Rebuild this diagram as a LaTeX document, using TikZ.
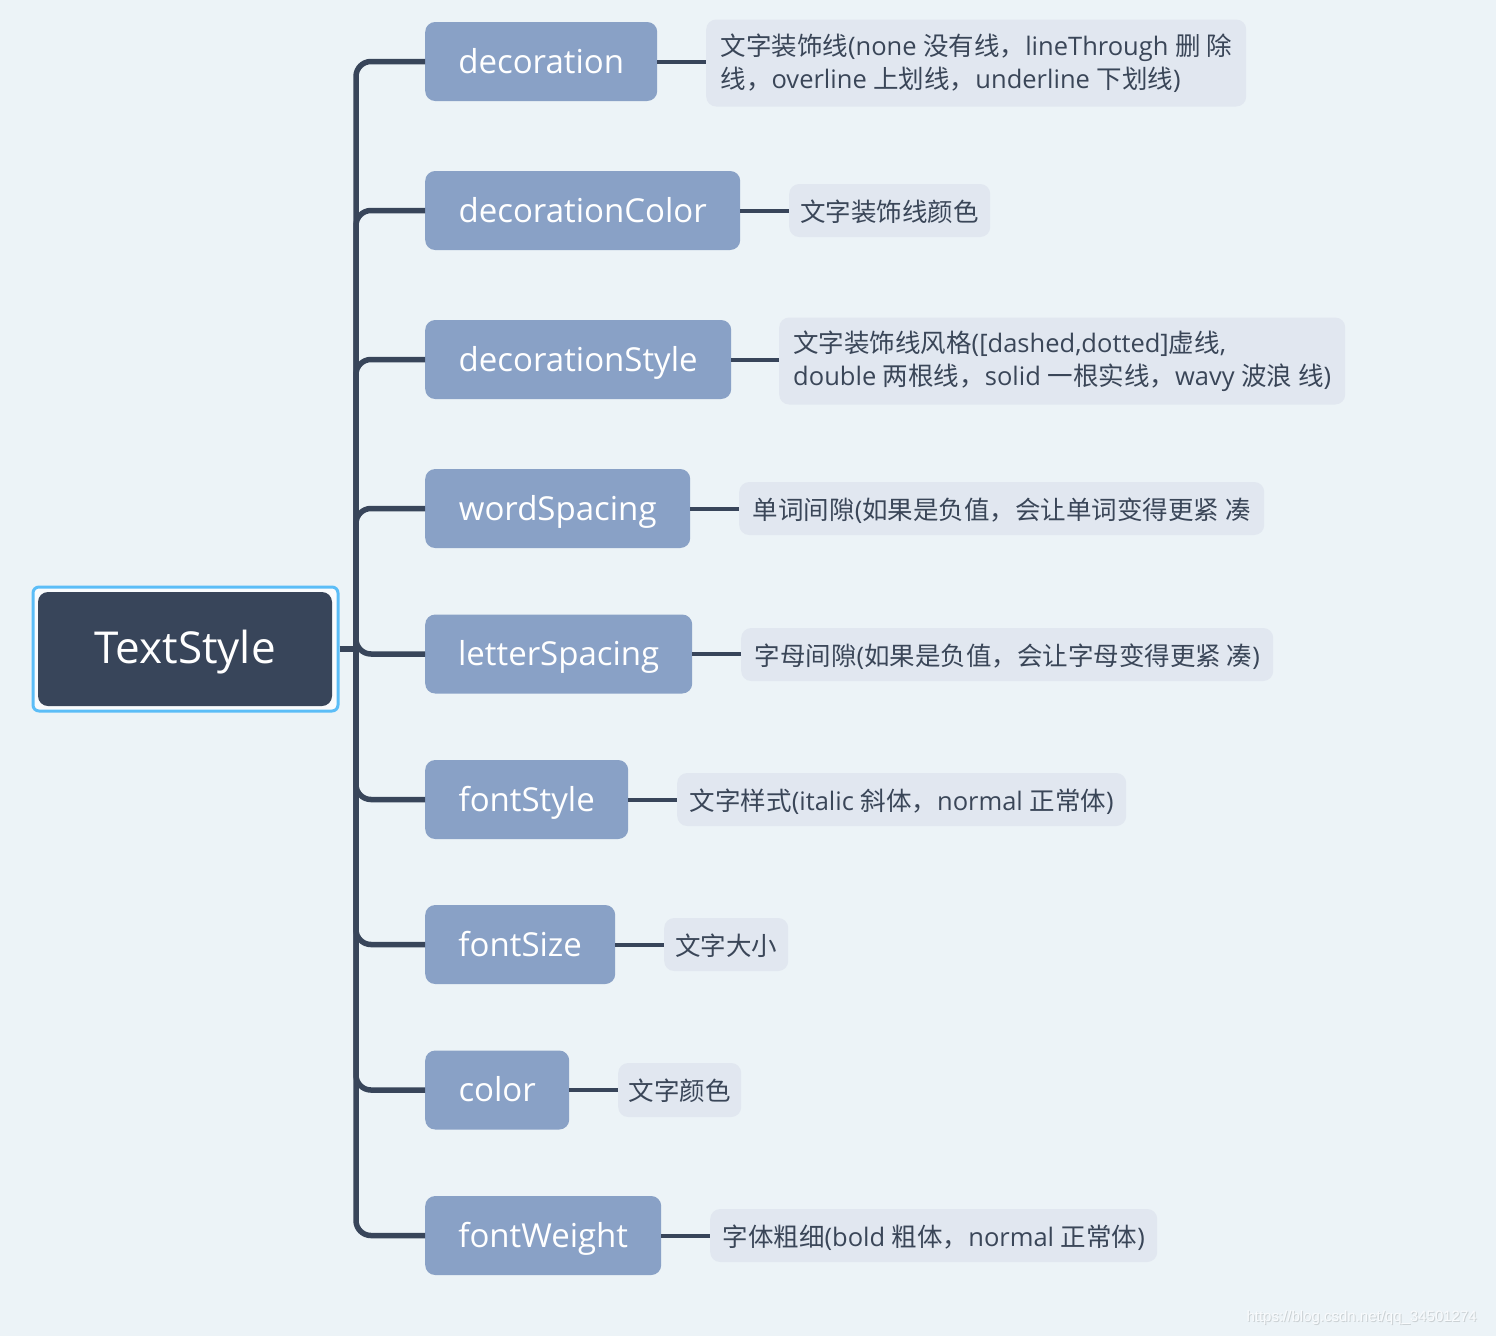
\documentclass[tikz,border=0pt]{standalone}
\usepackage{fontspec}
\setmainfont{Open Sans}
\newfontfamily\cjkfont{Noto Sans CJK SC}
\newfontfamily\wmfont{Liberation Sans}
\newcommand\zh[1]{{\cjkfont #1}}
\definecolor{bgc}{HTML}{ECF3F7}
\definecolor{darkc}{HTML}{38455A}
\definecolor{branchc}{HTML}{89A1C6}
\definecolor{descc}{HTML}{E1E7F0}
\definecolor{bluec}{HTML}{5BBDF7}
\definecolor{txtc}{HTML}{3A4658}
\tikzset{
  branchbox/.style={rectangle, rounded corners=10pt, fill=branchc, text=white,
    anchor=west, minimum height=79pt, inner sep=0pt, text height=26pt, text depth=3pt,
    font=\fontsize{33}{40}\selectfont},
  descbox/.style={rectangle, rounded corners=10pt, fill=descc, text=txtc,
    anchor=west, inner sep=0pt, align=left,
    font=\fontsize{25.5}{33}\selectfont},
  oneline/.style={text height=23pt, text depth=2pt},
  trunk/.style={draw=darkc, line width=5.5pt, rounded corners=15pt},
  leaf/.style={draw=darkc, line width=4pt},
}
\begin{document}
\begin{tikzpicture}[x=1pt,y=-1pt]
\fill[bgc] (0,0) rectangle (1496,1336);
\useasboundingbox (0,0) rectangle (1496,1336);

% root
\node[rectangle, rounded corners=6pt, draw=bluec, line width=3pt, fill=white!70!bgc,
  minimum width=305pt, minimum height=124pt, inner sep=0pt] (rootframe) at (185.5,649) {};
\node[rectangle, rounded corners=10pt, fill=darkc, text=white,
  minimum width=294pt, minimum height=114pt, inner sep=0pt, text height=30pt, text depth=2pt,
  font=\fontsize{44}{50}\selectfont] (root) at (185,649) {TextStyle};

% branches
\node[branchbox, minimum width=232pt] (b1) at (425,61.5) {decoration};
\node[branchbox, minimum width=315pt] (b2) at (425,210.5) {decorationColor};
\node[branchbox, minimum width=306pt] (b3) at (425,359.5) {decorationStyle};
\node[branchbox, minimum width=265pt] (b4) at (425,508.5) {wordSpacing};
\node[branchbox, minimum width=267pt] (b5) at (425,654) {letterSpacing};
\node[branchbox, minimum width=203pt] (b6) at (425,799.5) {fontStyle};
\node[branchbox, minimum width=190pt] (b7) at (425,944.5) {fontSize};
\node[branchbox, minimum width=144pt] (b8) at (425,1090) {color};
\node[branchbox, minimum width=236pt] (b9) at (425,1235.5) {fontWeight};

% descriptions
\node[descbox, minimum width=540pt, minimum height=87pt] (d1) at (706,63)
  {\zh{文字装饰线}(none \zh{没有线，}lineThrough \zh{删 除}\\\zh{线，}overline \zh{上划线，}underline \zh{下划线})};
\node[descbox, oneline, minimum width=201pt, minimum height=53pt] (d2) at (789,210.5)
  {\zh{文字装饰线颜色}};
\node[descbox, minimum width=566pt, minimum height=87pt] (d3) at (779,361)
  {\zh{文字装饰线风格}([dashed,dotted]\zh{虚线},\\double \zh{两根线，}solid \zh{一根实线，}wavy \zh{波浪 线})};
\node[descbox, oneline, minimum width=525pt, minimum height=53pt] (d4) at (739,508.5)
  {\zh{单词间隙}(\zh{如果是负值，会让单词变得更紧 凑}};
\node[descbox, oneline, minimum width=532pt, minimum height=53pt] (d5) at (741,654.5)
  {\zh{字母间隙}(\zh{如果是负值，会让字母变得更紧 凑})};
\node[descbox, oneline, minimum width=449pt, minimum height=53pt] (d6) at (677,799.5)
  {\zh{文字样式}(italic \zh{斜体，}normal \zh{正常体})};
\node[descbox, oneline, minimum width=124pt, minimum height=53pt] (d7) at (664,944.5)
  {\zh{文字大小}};
\node[descbox, oneline, minimum width=123pt, minimum height=54pt] (d8) at (618,1090)
  {\zh{文字颜色}};
\node[descbox, oneline, minimum width=447pt, minimum height=53pt] (d9) at (710,1235.5)
  {\zh{字体粗细}(bold \zh{粗体，}normal \zh{正常体})};

% trunk connectors
\coordinate (hub) at (356,649);
\draw[trunk] (rootframe.east) -- (hub);
\foreach \b in {b1,b2,b3,b4,b6,b7,b8,b9}{
  \draw[trunk] (hub) |- (\b.west);
}
\draw[trunk] (hub) -- (356,654) -- (b5.west);

% leaf connectors
\foreach \i in {1,...,9}{
  \draw[leaf] (b\i.east) -- (d\i.west |- b\i.east);
}

% watermark
\node[anchor=west, text=black!14!bgc, font=\wmfont\fontsize{15}{18}\selectfont] (wmshadow) at (1244,1319) {https://blog.csdn.net/qq\_34501274};
\node[anchor=west, text=white!70!bgc, font=\wmfont\fontsize{15}{18}\selectfont] (wm) at (1243,1318) {https://blog.csdn.net/qq\_34501274};
\end{tikzpicture}
\end{document}
